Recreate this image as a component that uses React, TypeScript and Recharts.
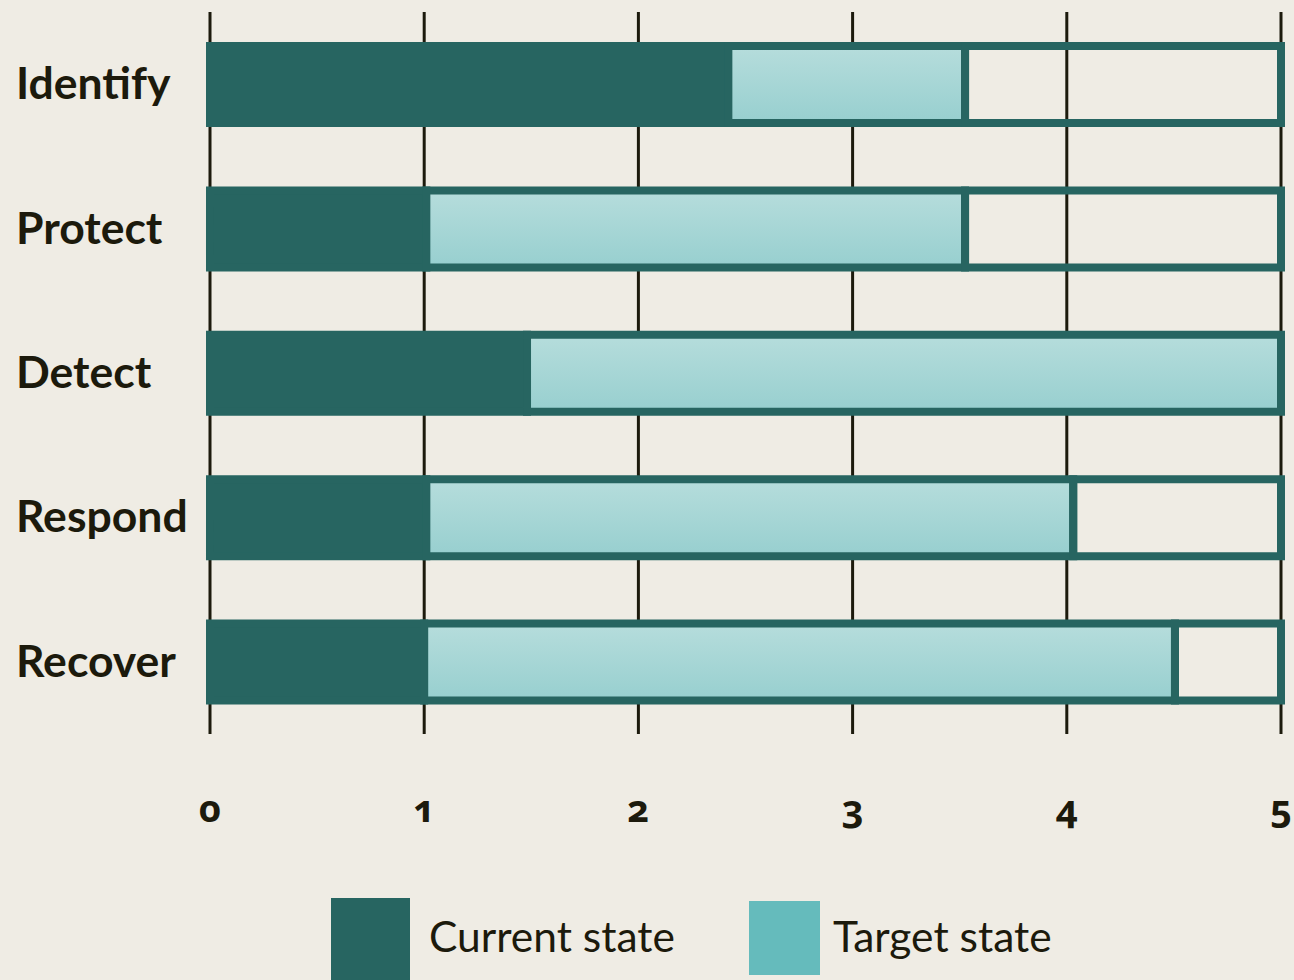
import React, { useLayoutEffect } from 'react';
import { BarChart, Bar, XAxis, YAxis, CartesianGrid, Legend } from 'recharts';

const categories = ['Identify', 'Protect', 'Detect', 'Respond', 'Recover'];
const currentState = [2.42, 1.01, 1.48, 1.01, 1.0];
const targetState = [3.525, 3.525, 5, 4.03, 4.505];
const maxLevel = 5;
const xTicks = [0, 1, 2, 3, 4, 5];

const DARK = '#276561';
const BG = '#efece4';
const INK = '#1c1a0c';

const data = categories.map((name, i) => ({
  name,
  current: currentState[i],
  target: targetState[i] - currentState[i],
  rest: maxLevel - targetState[i],
}));

const XTick = (props: any) => {
  const { x, y, payload } = props;
  return (
    <text
      x={x}
      y={y + 88}
      textAnchor="middle"
      fill={INK}
      style={{ fontFamily: 'Noto Sans', fontWeight: 700, fontSize: 38, fontVariantNumeric: 'oldstyle-nums' }}
    >
      {payload.value}
    </text>
  );
};

const YTick = (props: any) => {
  const { y, payload } = props;
  return (
    <text x={8} y={y + 15} textAnchor="start" fill={INK} style={{ fontFamily: 'Lato', fontWeight: 700, fontSize: 44.5 }}>
      {payload.value}
    </text>
  );
};

const LegendContent = () => (
  <div style={{ position: 'relative', width: 1286, height: 126, overflow: 'hidden' }}>
    <div style={{ position: 'absolute', left: 323, top: 44, width: 79, height: 90, background: DARK }} />
    <div style={{ position: 'absolute', left: 421, top: 58, fontFamily: 'Lato', fontSize: 42.5, color: INK, lineHeight: '48px' }}>
      Current state
    </div>
    <div style={{ position: 'absolute', left: 741, top: 47, width: 71, height: 74, background: '#65bbbc' }} />
    <div style={{ position: 'absolute', left: 825, top: 58, fontFamily: 'Lato', fontSize: 42.5, color: INK, lineHeight: '48px' }}>
      Target state
    </div>
  </div>
);

export default function App() {
  useLayoutEffect(() => {
    document.body.style.margin = '0';
    document.body.style.overflow = 'hidden';
    document.body.style.background = BG;
    document.documentElement.style.overflow = 'hidden';
  }, []);
  return (
    <div style={{ width: 1294, height: 980, background: BG, position: 'relative', overflow: 'hidden' }}>
      <style>{`.recharts-surface{overflow:visible}`}</style>
      <div style={{ position: 'absolute', left: 8, top: 8 }}>
        <BarChart
          width={1286}
          height={972}
          data={data}
          layout="vertical"
          margin={{ top: 4, right: 13, bottom: 0, left: 0 }}
          barSize={77}
        >
          <defs>
            <linearGradient id="targetGrad" x1="0" y1="0" x2="0" y2="1">
              <stop offset="0%" stopColor="#b6dddc" />
              <stop offset="100%" stopColor="#97cfcf" />
            </linearGradient>
          </defs>
          <CartesianGrid horizontal={false} vertical={true} stroke={INK} strokeWidth={3} />
          <XAxis
            type="number"
            domain={[0, maxLevel]}
            ticks={xTicks}
            axisLine={false}
            tickLine={false}
            tickSize={0}
            tickMargin={0}
            height={120}
            tick={<XTick />}
            interval={0}
          />
          <YAxis
            type="category"
            dataKey="name"
            width={202}
            axisLine={false}
            tickLine={false}
            tick={<YTick />}
          />
          <Legend verticalAlign="bottom" height={126} wrapperStyle={{ left: 0, bottom: 0, width: 1286 }} content={<LegendContent />} />
          <Bar dataKey="current" stackId="a" fill={DARK} stroke={DARK} strokeWidth={8} isAnimationActive={false} />
          <Bar dataKey="target" stackId="a" fill="url(#targetGrad)" stroke={DARK} strokeWidth={8} isAnimationActive={false} />
          <Bar dataKey="rest" stackId="a" fill="none" stroke={DARK} strokeWidth={8} isAnimationActive={false} />
        </BarChart>
      </div>
    </div>
  );
}
